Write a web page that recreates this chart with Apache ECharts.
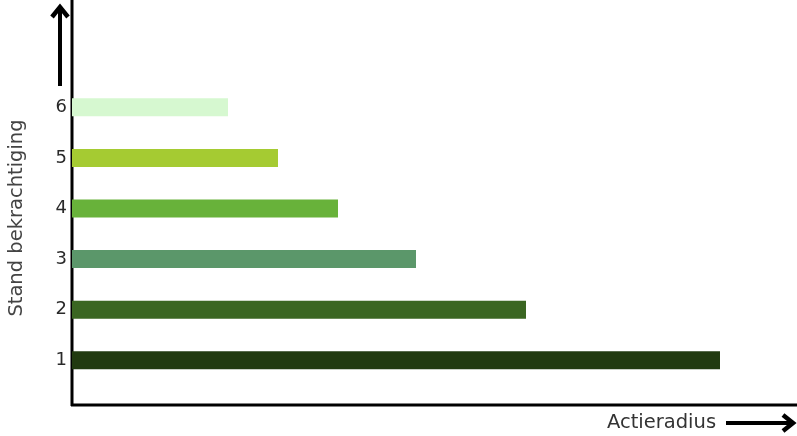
<!DOCTYPE html>
<html><head><meta charset="utf-8">
<script src="https://cdn.jsdelivr.net/npm/echarts@6/dist/echarts.min.js"></script>
<style>html,body{margin:0;padding:0;background:#fff}#c{width:797px;height:436px}</style>
</head><body><div id="c"></div>
<script>
var categories = ['1','2','3','4','5','6'];
var values = [648, 454, 344, 266, 206, 156];
var barColors = ['#213a10','#3a6622','#5b976a','#68b23a','#a5cb32','#d6f8d0'];
var xTitle = 'Actieradius';
var yTitle = 'Stand bekrachtiging';

var chart = echarts.init(document.getElementById('c'));
chart.setOption({
  animation: false,
  backgroundColor: '#fff',
  grid: {left: 72, right: 0, top: 82, height: 303.6, outerBoundsMode: 'none', containLabel: false},
  xAxis: {type: 'value', min: 0, max: 725, show: false},
  yAxis: {
    type: 'category', data: categories,
    axisLine: {show: false}, axisTick: {show: false}, splitLine: {show: false},
    axisLabel: {fontFamily: 'Verdana, DejaVu Sans', fontSize: 18, color: '#2a2a2a', margin: 5}
  },
  series: [{
    type: 'bar', barWidth: 18,
    data: values.map(function (v, i) { return {value: v, itemStyle: {color: barColors[i]}}; })
  }],
  graphic: [
    {type: 'line', shape: {x1: 72, y1: 0, x2: 72, y2: 406}, style: {stroke: '#000', lineWidth: 3}},
    {type: 'line', shape: {x1: 71, y1: 405, x2: 797, y2: 405}, style: {stroke: '#000', lineWidth: 3}},
    {type: 'line', shape: {x1: 60, y1: 86, x2: 60, y2: 8}, style: {stroke: '#000', lineWidth: 4}},
    {type: 'polyline', shape: {points: [[52, 17], [60, 7], [68, 17]]}, style: {stroke: '#000', lineWidth: 4.5, fill: null}},
    {type: 'line', shape: {x1: 726, y1: 423, x2: 792, y2: 423}, style: {stroke: '#000', lineWidth: 4}},
    {type: 'polyline', shape: {points: [[783, 415], [793, 423], [783, 431]]}, style: {stroke: '#000', lineWidth: 4.5, fill: null}},
    {type: 'text', x: 17, y: 218, rotation: Math.PI / 2,
      style: {text: yTitle, font: '19.5px Verdana, "DejaVu Sans"', fill: '#444', textAlign: 'center', textVerticalAlign: 'middle'}},
    {type: 'text', left: 607, top: 413, style: {text: xTitle, font: '19.5px Verdana, "DejaVu Sans"', fill: '#333'}}
  ]
});
</script></body></html>
